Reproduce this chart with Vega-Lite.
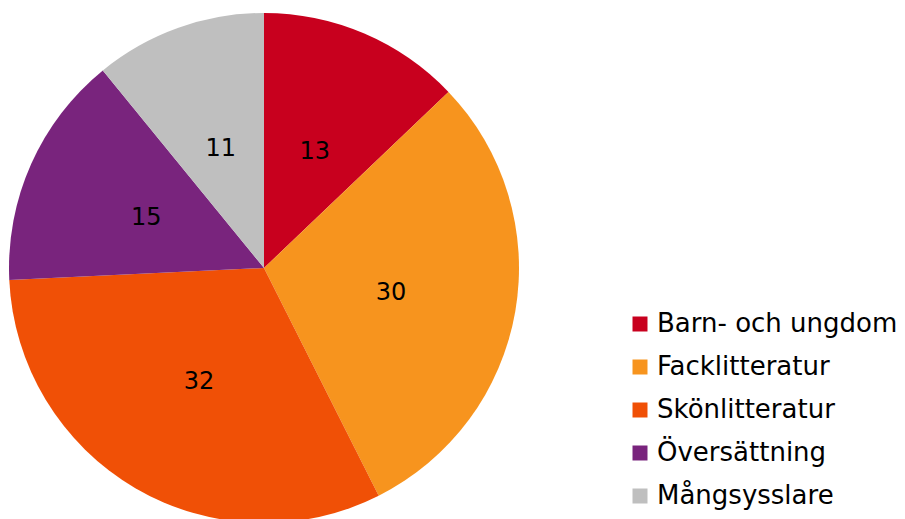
{
  "$schema": "https://vega.github.io/schema/vega-lite/v6.json",
  "width": 528,
  "height": 536,
  "padding": 0,
  "autosize": {"type": "pad"},
  "background": "white",
  "config": {"view": {"stroke": null}, "font": "DejaVu Sans"},
  "data": {"values": [
    {"cat": "Barn- och ungdom", "value": 13, "idx": 1},
    {"cat": "Facklitteratur", "value": 30, "idx": 2},
    {"cat": "Skönlitteratur", "value": 32, "idx": 3},
    {"cat": "Översättning", "value": 15, "idx": 4},
    {"cat": "Mångsysslare", "value": 11, "idx": 5}
  ]},
  "encoding": {
    "theta": {"field": "value", "type": "quantitative", "stack": true},
    "order": {"field": "idx", "type": "quantitative"}
  },
  "layer": [
    {
      "mark": {"type": "arc", "outerRadius": 255},
      "encoding": {
        "color": {
          "field": "cat", "type": "nominal",
          "sort": ["Barn- och ungdom", "Facklitteratur", "Skönlitteratur", "Översättning", "Mångsysslare"],
          "scale": {
            "domain": ["Barn- och ungdom", "Facklitteratur", "Skönlitteratur", "Översättning", "Mångsysslare"],
            "range": ["#C8001E", "#F7941E", "#F05006", "#79247D", "#BFBFBF"]
          },
          "legend": {
            "title": null,
            "orient": "none",
            "legendX": 627,
            "legendY": 311,
            "symbolType": "square",
            "symbolSize": 225,
            "symbolStrokeWidth": 0,
            "labelFontSize": 26,
            "labelFont": "DejaVu Sans",
            "labelColor": "#000000",
            "labelOffset": 4,
            "rowPadding": 17,
            "labelLimit": 400
          }
        }
      }
    },
    {
      "mark": {"type": "text", "radius": 129, "dy": 3, "fontSize": 24, "font": "DejaVu Sans", "color": "#000000"},
      "encoding": {
        "text": {"field": "value", "type": "quantitative"}
      }
    }
  ]
}
